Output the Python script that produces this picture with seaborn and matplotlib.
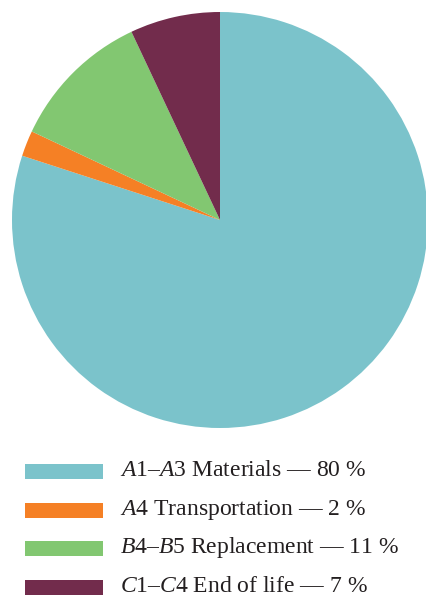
import matplotlib
matplotlib.use("Agg")
import matplotlib.pyplot as plt
import seaborn as sns
from matplotlib.patches import Rectangle

categories = ["$\\mathit{A}$1–$\\mathit{A}$3 Materials", "$\\mathit{A}$4 Transportation",
              "$\\mathit{B}$4–$\\mathit{B}$5 Replacement", "$\\mathit{C}$1–$\\mathit{C}$4 End of life"]
values = [80, 2, 11, 7]
colors = ["#7BC3CB", "#F58025", "#82C771", "#722C4C"]

sns.set_theme(style="white")
plt.rcParams['font.family'] = ['Liberation Serif', 'DejaVu Serif']
plt.rcParams['mathtext.fontset'] = 'custom'
plt.rcParams['mathtext.rm'] = 'Liberation Serif'
plt.rcParams['mathtext.it'] = 'Liberation Serif:italic'

W, H = 426, 601
fig = plt.figure(figsize=(W / 100, H / 100), dpi=100)
cx, cy, r = 220, 220, 208
ax = fig.add_axes([(cx - r) / W, (H - cy - r) / H, 2 * r / W, 2 * r / H])
ax.pie(values, colors=colors, startangle=90, counterclock=False,
       wedgeprops=dict(linewidth=0))
ax.set_xlim(-1, 1)
ax.set_ylim(-1, 1)
ax.set_aspect('equal')
ax.axis('off')

labels = [f"{c} — {v} %" for c, v in zip(categories, values)]
row0, step = 471.5, 38.6
for i, (lab, col) in enumerate(zip(labels, colors)):
    yc = row0 + i * step
    fig.patches.append(Rectangle((25 / W, (H - yc - 7.6) / H), 78 / W, 15.2 / H,
                                 transform=fig.transFigure, facecolor=col,
                                 edgecolor='none'))
    fig.text(120.5 / W, (H - yc - 4.5) / H, lab, fontsize=17, va='baseline',
             ha='left', color='#231F20')

fig.savefig("out.png", dpi=100)
